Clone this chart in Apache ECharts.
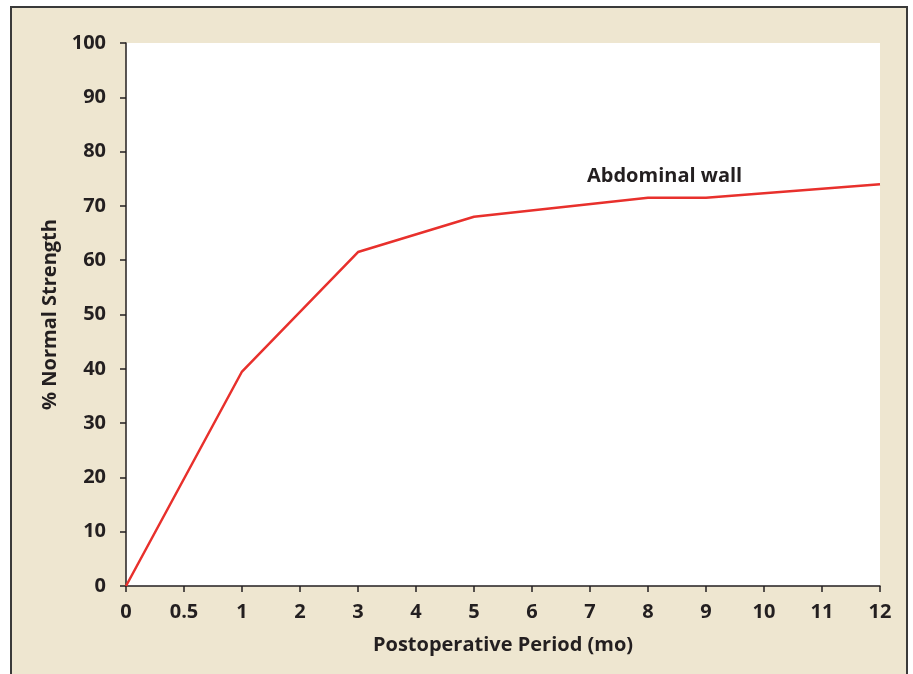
<!DOCTYPE html>
<html><head><meta charset="utf-8">
<script src="https://cdn.jsdelivr.net/npm/echarts@6/dist/echarts.min.js"></script>
<style>html,body{margin:0;padding:0;background:#fff;}#c{width:913px;height:674px;}</style>
</head><body><div id="c"></div>
<script>
const xTickLabels = ['0','0.5','1','2','3','4','5','6','7','8','9','10','11','12'];
const months = ['0','1','3','5','8','9','12'];
const strength = [0, 39.5, 61.5, 68, 71.5, 71.5, 74];
const seriesName = 'Abdominal wall';

const FONT = 'Open Sans';
const FS = 20;
const chart = echarts.init(document.getElementById('c'));
chart.setOption({
  animation: false,
  graphic: [
    { type: 'rect', z: -10, shape: { x: 11, y: 7, width: 896, height: 700 },
      style: { fill: '#EEE6D0', stroke: '#3a3a3a', lineWidth: 2 } },
    { type: 'text', left: 587, top: 166, z: 10,
      style: { text: seriesName, font: 'bold ' + FS + 'px "' + FONT + '"', fill: '#231f20' } }
  ],
  grid: { left: 126, right: 33, top: 43, bottom: 88, show: true, backgroundColor: '#ffffff', borderWidth: 0 },
  xAxis: {
    type: 'category', data: xTickLabels, boundaryGap: false,
    name: 'Postoperative Period (mo)', nameLocation: 'middle', nameGap: 49,
    nameTextStyle: { fontFamily: FONT, fontWeight: 'bold', fontSize: FS, color: '#231f20' },
    axisLine: { lineStyle: { color: '#231f20', width: 1.5 } },
    axisTick: { alignWithLabel: true, length: 6, lineStyle: { color: '#231f20', width: 1.5 } },
    axisLabel: { margin: 16, fontFamily: FONT, fontWeight: 'bold', fontSize: FS, color: '#231f20', interval: 0 },
    splitLine: { show: false }
  },
  yAxis: {
    type: 'value', min: 0, max: 100, interval: 10,
    name: '% Normal Strength', nameLocation: 'middle', nameGap: 64, nameRotate: 90,
    nameTextStyle: { fontFamily: FONT, fontWeight: 'bold', fontSize: FS, color: '#231f20' },
    axisLine: { show: true, lineStyle: { color: '#231f20', width: 1.5 } },
    axisTick: { show: true, length: 6, lineStyle: { color: '#231f20', width: 1.5 } },
    axisLabel: { margin: 20, fontFamily: FONT, fontWeight: 'bold', fontSize: FS, color: '#231f20' },
    splitLine: { show: false }
  },
  series: [{
    name: seriesName, type: 'line', showSymbol: false, symbol: 'none',
    data: months.map((m, i) => [m, strength[i]]),
    lineStyle: { color: '#E8302C', width: 2.5 }
  }]
});
</script></body></html>
